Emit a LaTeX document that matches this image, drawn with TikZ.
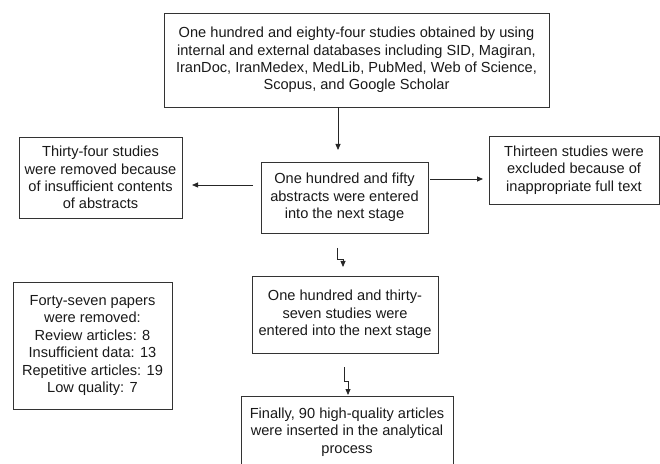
\documentclass[tikz,border=0pt]{standalone}
\usepackage{fontspec}
\setmainfont{Liberation Sans}
\usetikzlibrary{arrows.meta}
\begin{document}
\begin{tikzpicture}[x=1pt,y=1pt,
  box/.style={rectangle,draw=black!80,line width=0.9pt,align=center,inner sep=0pt,text=black!90,font=\fontsize{14.6}{17.4}\selectfont},
  arr/.style={-{Triangle[length=6pt,width=5pt]},line width=0.8pt,draw=black!85}]
\useasboundingbox (0,0) rectangle (660,463);

\node[box,minimum width=385pt,minimum height=94pt](db) at (356.5,403){One hundred and eighty-four studies obtained by using\\internal and external databases including SID, Magiran,\\IranDoc, IranMedex, MedLib, PubMed, Web of Science,\\Scopus, and Google Scholar};
\node[box,minimum width=167pt,minimum height=71pt](abs) at (344.5,265.5){One hundred and fifty\\abstracts were entered\\into the next stage};
\node[box,minimum width=163pt,minimum height=81pt](rma) at (100.5,285.5){Thirty-four studies\\were removed because\\of insufficient contents\\of abstracts};
\node[box,minimum width=170pt,minimum height=68pt](exc) at (574,293){Thirteen studies were\\excluded because of\\inappropriate full text};
\node[box,minimum width=186pt,minimum height=77pt](stage) at (345,148.5){One hundred and thirty-\\seven studies were\\entered into the next stage};
\node[box,minimum width=159pt,minimum height=127pt](rmb) at (92.5,117.5){Forty-seven papers\\were removed:\\Review articles: 8\\Insufficient data: 13\\Repetitive articles: 19\\Low quality: 7};
\node[box,minimum width=212pt,minimum height=72pt](final) at (347,31){Finally, 90 high-quality articles\\were inserted in the analytical\\process};

% free ends of the connectors
\coordinate (t1) at (338,313);
\coordinate (l1) at (253,278);
\coordinate (l2) at (192,278);
\coordinate (r1) at (430,284);
\coordinate (r2) at (483,284);
\coordinate (ka) at (337,215);
\coordinate (kb) at (343,196);
\coordinate (kc) at (344,96);
\coordinate (kd) at (348,68);

\draw[arr] (db.south -| t1) -- (t1);
\draw[arr] (l1) -- (l2);
\draw[arr] (r1) -- (r2);
\draw[arr] (ka) -- ++(0,-11) -| (kb);
\draw[arr] (kc) -- ++(0,-14) -| (kd);

\end{tikzpicture}
\end{document}
